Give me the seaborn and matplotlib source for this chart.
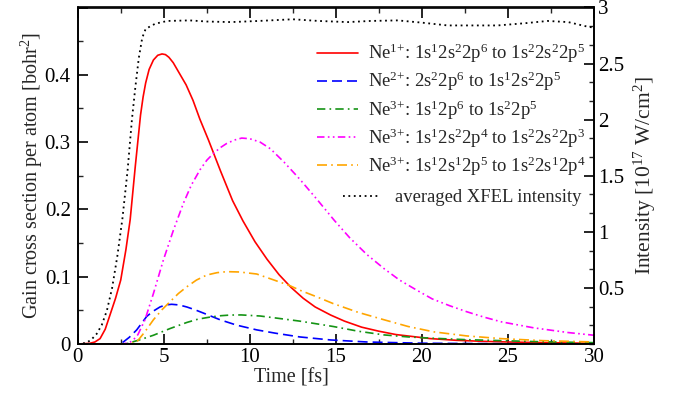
import numpy as np
import pandas as pd
import matplotlib
matplotlib.use("Agg")
import matplotlib.pyplot as plt
import seaborn as sns
from matplotlib.ticker import MultipleLocator, FixedLocator

# ---------------- data ----------------
t_red = [0, 0.7, 1.0, 1.3, 1.6, 1.9, 2.2, 2.5, 2.8, 3.05, 3.35, 3.65, 3.8, 3.95, 4.15, 4.4,
         4.65, 4.9, 5.1, 5.3, 5.55, 5.8, 6.3, 6.7, 7.1, 7.6, 8.3, 9.0, 9.6, 10.3, 11.0, 11.7,
         12.4, 13.1, 13.8, 14.7, 15.5, 16.5, 17.5, 18.5, 19.5, 20.5, 22, 23.5, 25, 27, 30]
v_red = [0, 0.001, 0.003, 0.008, 0.022, 0.045, 0.068, 0.095, 0.14, 0.185, 0.265, 0.34,
         0.367, 0.388, 0.408, 0.422, 0.429, 0.431, 0.430, 0.426, 0.418, 0.407, 0.385,
         0.362, 0.334, 0.303, 0.257, 0.213, 0.183, 0.152, 0.126, 0.103, 0.084, 0.068,
         0.055, 0.043, 0.034, 0.025, 0.019, 0.014, 0.011, 0.008, 0.0055, 0.004, 0.003,
         0.002, 0.001]

t_blue = [0, 2.3, 2.65, 3.0, 3.43, 4.01, 4.4, 4.78, 5.1, 5.46, 5.9, 6.34, 6.8, 7.3, 8.27,
          9.24, 10.4, 11.5, 12.9, 14.7, 16.8, 18.5, 20, 22.5, 25, 27.5, 30]
v_blue = [0, 0, 0.003, 0.01, 0.021, 0.041, 0.049, 0.055, 0.058, 0.059, 0.058, 0.055, 0.051,
          0.046, 0.036, 0.028, 0.021, 0.016, 0.0105, 0.006, 0.003, 0.002, 0.0012, 0.0007,
          0.0004, 0.0002, 0.0001]

t_green = [0, 2.8, 3.05, 3.7, 4.4, 5.37, 6.34, 7.0, 7.69, 8.3, 8.85, 9.5, 10.6, 11.7, 12.9,
           14.85, 16.3, 17.8, 19.2, 20.7, 22.5, 24.6, 27, 30]
v_green = [0, 0, 0.002, 0.007, 0.013, 0.023, 0.032, 0.037, 0.040, 0.042, 0.043, 0.0432,
           0.0416, 0.038, 0.034, 0.026, 0.019, 0.0135, 0.0105, 0.0085, 0.0065, 0.005,
           0.0033, 0.002]

t_mag = [0, 2.6, 3.0, 3.23, 3.5, 3.91, 4.4, 4.98, 5.56, 6.14, 6.6, 7.11, 7.5, 7.88, 8.3,
         8.66, 9.1, 9.53, 10.0, 10.6, 11.2, 12.0, 12.9, 13.9, 14.9, 15.8, 16.8, 17.8, 18.7,
         19.7, 20.6, 21.6, 22.6, 23.6, 24.6, 26.5, 28.5, 30]
v_mag = [0, 0, 0.002, 0.006, 0.014, 0.036, 0.075, 0.125, 0.169, 0.209, 0.236, 0.259, 0.273,
         0.283, 0.292, 0.298, 0.303, 0.306, 0.305, 0.300, 0.290, 0.270, 0.245, 0.215, 0.184,
         0.158, 0.133, 0.112, 0.095, 0.080, 0.067, 0.057, 0.048, 0.040, 0.033, 0.024,
         0.017, 0.013]

t_org = [0, 3.0, 3.43, 3.9, 4.4, 4.9, 5.37, 5.85, 6.34, 6.9, 7.5, 8.1, 8.66, 9.4, 10.4,
         11.3, 12.3, 12.9, 13.9, 14.85, 16.3, 17.8, 19.2, 20.7, 22.6, 24.6, 27, 30]
v_org = [0, 0, 0.003, 0.018, 0.036, 0.051, 0.063, 0.075, 0.085, 0.095, 0.1025, 0.106,
         0.1075, 0.107, 0.104, 0.096, 0.087, 0.080, 0.070, 0.060, 0.047, 0.036, 0.026,
         0.018, 0.012, 0.008, 0.005, 0.003]

t_int = [0, 0.5, 0.8, 1.1, 1.4, 1.7, 2.0, 2.3, 2.6, 2.9, 3.15, 3.35, 3.55, 3.75, 3.95, 4.5,
         5.2, 6.5, 7.5, 8.9, 10.5, 12.5, 14, 15.7, 17, 18.6, 20, 21.5, 23, 24.4, 26, 27.3,
         28.5, 29.6, 30]
v_int = [0, 0.01, 0.04, 0.09, 0.17, 0.3, 0.5, 0.78, 1.12, 1.55, 2.0, 2.29, 2.55, 2.73, 2.81,
         2.855, 2.88, 2.885, 2.875, 2.87, 2.88, 2.895, 2.88, 2.87, 2.88, 2.885, 2.865, 2.84,
         2.84, 2.84, 2.86, 2.88, 2.87, 2.83, 2.82]

labels = [
    r"Ne$^{1{+}}$: 1s$^{1}$2s$^{2}$2p$^{6}$ to 1s$^{2}$2s$^{2}$2p$^{5}$",
    r"Ne$^{2{+}}$: 2s$^{2}$2p$^{6}$ to 1s$^{1}$2s$^{2}$2p$^{5}$",
    r"Ne$^{3{+}}$: 1s$^{1}$2p$^{6}$ to 1s$^{2}$2p$^{5}$",
    r"Ne$^{3{+}}$: 1s$^{1}$2s$^{2}$2p$^{4}$ to 1s$^{2}$2s$^{2}$2p$^{3}$",
    r"Ne$^{3{+}}$: 1s$^{1}$2s$^{1}$2p$^{5}$ to 1s$^{2}$2s$^{1}$2p$^{4}$",
]
label_int = "averaged XFEL intensity"

x_ticks = [0, 5, 10, 15, 20, 25, 30]
y_ticks = [0, 0.1, 0.2, 0.3, 0.4]
y2_ticks = [0.5, 1, 1.5, 2, 2.5, 3]
y2_ticklabels = ["0.5", "1", "1.5", "2", "2.5", "3"]

# ---------------- style ----------------
sns.set_theme(style="ticks")
plt.rcParams["font.family"] = ["Liberation Serif", "DejaVu Serif"]
plt.rcParams["mathtext.fontset"] = "custom"
plt.rcParams["mathtext.rm"] = "Liberation Serif"
plt.rcParams["mathtext.it"] = "Liberation Serif:italic"
plt.rcParams["mathtext.bf"] = "Liberation Serif:bold"
plt.rcParams["axes.linewidth"] = 1.2
FS_LEG = 13.4
FS_TICK = 15
FS_XLAB = 14.5
FS_YLAB = 14.5
FS_Y2LAB = 15.5

fig = plt.figure(figsize=(6.84, 3.96), dpi=100)
ax = fig.add_axes([77.7 / 684, 52 / 396, (594 - 77.7) / 684, (344 - 7.5) / 396])
ax.set_facecolor("white")
ax2 = ax.twinx()

LW = 1.2
series = [
    (t_red, v_red, "#ff0000", "-"),
    (t_blue, v_blue, "#0000ff", (0, (6, 3))),
    (t_green, v_green, "#159415", (0, (5, 2.5, 1, 2.5))),
    (t_mag, v_mag, "#ff00ff", (0, (4.5, 2, 1, 2, 1, 2))),
    (t_org, v_org, "#ffa500", (0, (6, 2.5, 1, 2.5))),
]
handles = []
for (tt, vv, col, ls), lab in zip(series, labels):
    df = pd.DataFrame({"t": tt, "v": vv})
    sns.lineplot(data=df, x="t", y="v", ax=ax, color=col, linewidth=LW,
                 linestyle=ls, label=lab, errorbar=None, legend=False)
    handles.append(ax.get_lines()[-1])

dfi = pd.DataFrame({"t": t_int, "v": v_int})
sns.lineplot(data=dfi, x="t", y="v", ax=ax2, color="black", linewidth=1.3,
             linestyle=(0, (1, 2.0)), label=label_int, errorbar=None, legend=False)
h_int = ax2.get_lines()[-1]

ax.set_xlim(0, 30)
ax.set_ylim(0, 0.5)
ax2.set_ylim(0, 3)

ax.xaxis.set_major_locator(FixedLocator(x_ticks))
ax.set_xticklabels([str(v) for v in x_ticks])
ax.xaxis.set_minor_locator(MultipleLocator(2.5))
ax.yaxis.set_major_locator(FixedLocator(y_ticks + [0.5]))
ax.set_yticklabels(["0", "0.1", "0.2", "0.3", "0.4", ""])
ax.yaxis.set_minor_locator(MultipleLocator(0.05))
ax2.yaxis.set_major_locator(FixedLocator(y2_ticks))
ax2.set_yticklabels(y2_ticklabels)
ax2.yaxis.set_minor_locator(MultipleLocator(0.5 / 3))

for a in (ax, ax2):
    a.tick_params(which="major", direction="in", length=7, width=1.2, labelsize=FS_TICK,
                  colors="black")
    a.tick_params(which="minor", direction="in", length=3.5, width=1.0)
ax.tick_params(which="both", top=True, right=False, bottom=True, left=True)
ax.tick_params(axis="x", which="major", pad=3)
ax.tick_params(axis="y", which="major", pad=5)
ax2.tick_params(which="both", left=False, right=True, labelright=True)
ax2.tick_params(axis="y", which="major", pad=3)
for a in (ax, ax2):
    for s in a.spines.values():
        s.set_visible(True)
        s.set_linewidth(1.2)
        s.set_color("black")

ax.set_xlabel("Time [fs]", fontsize=FS_XLAB)
ax.set_ylabel(r"Gain cross section per atom [bohr$^{2}$]", fontsize=FS_YLAB)
ax2.set_ylabel(r"Intensity [10$^{17}$ W/cm$^{2}$]", fontsize=FS_Y2LAB)
ax.xaxis.set_label_coords(0.414, -0.072)
ax.yaxis.set_label_coords(-0.064, 0.5)
ax2.yaxis.set_label_coords(1.074, 0.5)

leg1 = ax2.legend(handles=handles, labels=labels, loc="upper left",
                  bbox_to_anchor=(317 / 684, 1 - 42 / 396), bbox_transform=fig.transFigure,
                  frameon=False, fontsize=FS_LEG, handlelength=2.2, handletextpad=0.55,
                  labelspacing=0.25, borderpad=0, borderaxespad=0)
ax2.add_artist(leg1)
leg2 = ax2.legend(handles=[h_int], labels=[label_int], loc="upper left",
                  bbox_to_anchor=(343 / 684, 1 - 189 / 396), bbox_transform=fig.transFigure,
                  frameon=False, fontsize=FS_LEG, handlelength=2.0, handletextpad=0.8,
                  borderpad=0, borderaxespad=0)

fig.savefig("out.png", dpi=100, facecolor="white")
